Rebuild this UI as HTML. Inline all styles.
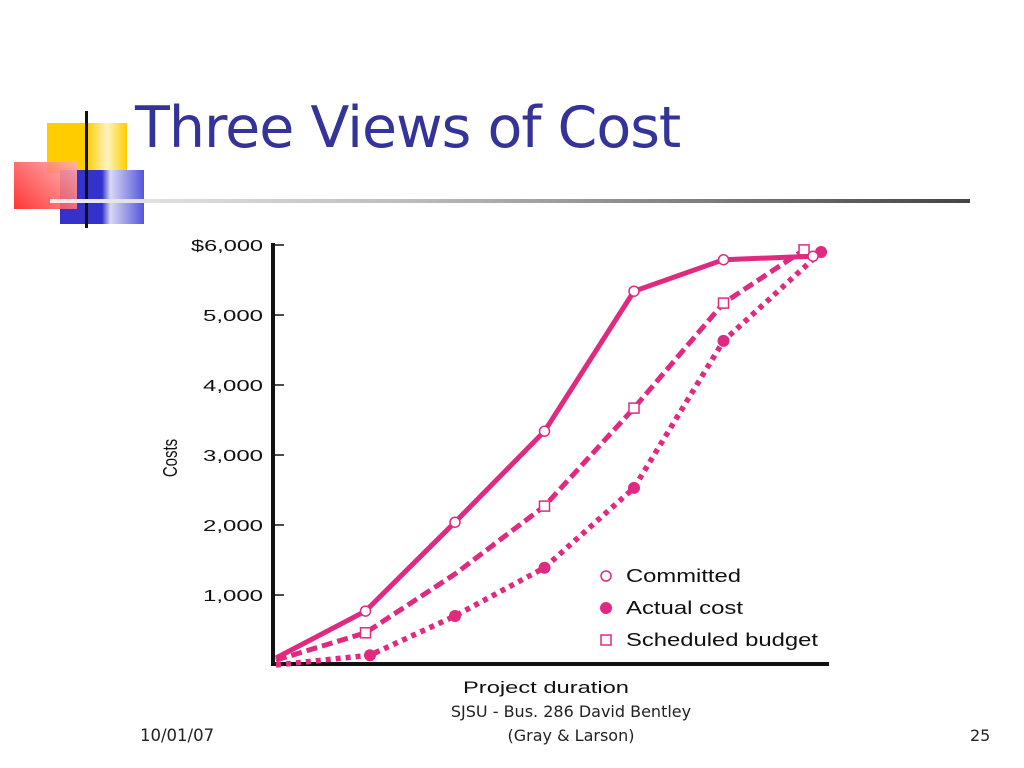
<!DOCTYPE html>
<html><head><meta charset="utf-8"><style>
body{margin:0;width:1024px;height:768px;background:#fff;position:relative;overflow:hidden;font-family:"DejaVu Sans",sans-serif}
.a{position:absolute}
</style></head><body>
<div class="a" style="left:47px;top:123px;width:80px;height:50px;background:linear-gradient(90deg,#ffcc00 0,#ffcc00 50%,#fff4c0 75%,#ffcc00 100%)"></div>
<div class="a" style="left:60px;top:170px;width:84px;height:54px;background:linear-gradient(90deg,#3333cc 0,#3333cc 50%,#d8d8f4 60%,#5555dd 100%)"></div>
<div class="a" style="left:14px;top:162px;width:63px;height:47px;background:linear-gradient(45deg,#ff2020,#ffb0b0);opacity:.9"></div>
<div class="a" style="left:85px;top:111px;width:3px;height:117px;background:#111"></div>
<div class="a" style="left:50px;top:199px;width:920px;height:4px;background:linear-gradient(90deg,#eee,#bbb 40%,#444)"></div>
<div class="a" style="left:135px;top:95px;font-size:57px;color:#333399;font-family:'DejaVu Sans',sans-serif;letter-spacing:-1px">Three Views of Cost</div>
<svg class="a" style="left:0;top:0" width="1024" height="768"></svg>
<div class="a" style="left:140px;top:726px;font-size:16.5px;color:#222">10/01/07</div>
<div class="a" style="left:421px;top:700px;width:300px;text-align:center;font-size:16px;color:#222;line-height:24px">SJSU - Bus. 286 David Bentley<br>(Gray &amp; Larson)</div>
<div class="a" style="left:970px;top:726px;font-size:16px;color:#222">25</div>
<script>
const yTicks=[1000,2000,3000,4000,5000,6000];
const yTickLabels=["1,000","2,000","3,000","4,000","5,000","$6,000"];
const committedT=[0,1,2,3,4,5,6];
const committedV=[100,770,2040,3340,5340,5790,5840];
const actualT=[0,1.05,2,3,4,5,6.09];
const actualV=[0,140,700,1390,2530,4630,5900];
const scheduledT=[0,1,2,3,4,5,5.9];
const scheduledV=[70,460,1300,2270,3670,5170,5930];
const NS="http://www.w3.org/2000/svg";
const svg=document.querySelector('svg');
const X=t=>276+89.5*t, Y=v=>665-v*0.07;
const C="#e02a80";
const F='"Liberation Sans",sans-serif';
function mk(tag,at){const e=document.createElementNS(NS,tag);for(const k in at)e.setAttribute(k,at[k]);svg.appendChild(e);return e;}
const ya=mk('line',{x1:273,y1:243,x2:273,y2:666,stroke:'#111','stroke-width':4});


const xa=mk('line',{x1:271,y1:664,x2:829,y2:664,stroke:'#111','stroke-width':4});


yTicks.forEach((v,i)=>{
 const tk=mk('line',{x1:273,y1:Y(v),x2:284,y2:Y(v),stroke:'#111','stroke-width':1.5});
 
 
 const lab=yTickLabels[i];
 const t=mk('text',{x:263,y:Y(v)+6,'text-anchor':'end','font-size':16,fill:'#111','font-family':F,textLength:lab.length*12,lengthAdjust:'spacingAndGlyphs'});
 t.textContent=lab;
 
 
});
const yt=mk('text',{x:0,y:0,'font-size':20,fill:'#111','text-anchor':'middle','font-family':F,transform:'translate(177,458) rotate(-90) scale(0.75,1)'});
yt.textContent='Costs';


const xt=mk('text',{x:463,y:693,'font-size':17,fill:'#111','font-family':F,textLength:166,lengthAdjust:'spacingAndGlyphs'});
xt.textContent='Project duration';


function series(T,V,dash,name,marker,markEvery,w){
 const p=mk('polyline',{points:T.map((t,i)=>X(t)+','+Y(V[i])).join(' '),fill:'none',stroke:C,'stroke-width':w,'stroke-dasharray':dash});
 
 
 T.forEach((t,i)=>{
  if(i===0||!markEvery(i))return;
  let m;
  if(marker==='o')m=mk('circle',{cx:X(t),cy:Y(V[i]),r:5,fill:'#fff',stroke:C,'stroke-width':1.5});
  else if(marker==='d')m=mk('circle',{cx:X(t),cy:Y(V[i]),r:6,fill:C});
  else m=mk('rect',{x:X(t)-5,y:Y(V[i])-5,width:10,height:10,fill:'#fff',stroke:C,'stroke-width':1.5});
  
  
 });
}
series(scheduledT,scheduledV,'11 5','scheduled-budget','s',i=>i!==2,5);
series(actualT,actualV,'5 5','actual-cost','d',()=>true,5.5);
series(committedT,committedV,'none','committed','o',()=>true,5);
const leg=[['Committed','o',115],['Actual cost','d',117],['Scheduled budget','s',192]];
leg.forEach((l,i)=>{
 const y=576+i*32;let m;
 if(l[1]==='o')m=mk('circle',{cx:606,cy:y,r:5,fill:'#fff',stroke:C,'stroke-width':1.5});
 else if(l[1]==='d')m=mk('circle',{cx:606,cy:y,r:6,fill:C});
 else m=mk('rect',{x:601,y:y-5,width:10,height:10,fill:'#fff',stroke:C,'stroke-width':1.5});
 
 
 const t=mk('text',{x:626,y:y+6,'font-size':18,fill:'#111','font-family':F,textLength:l[2],lengthAdjust:'spacingAndGlyphs'});
 t.textContent=l[0];
 
 
});
</script>
</body></html>
